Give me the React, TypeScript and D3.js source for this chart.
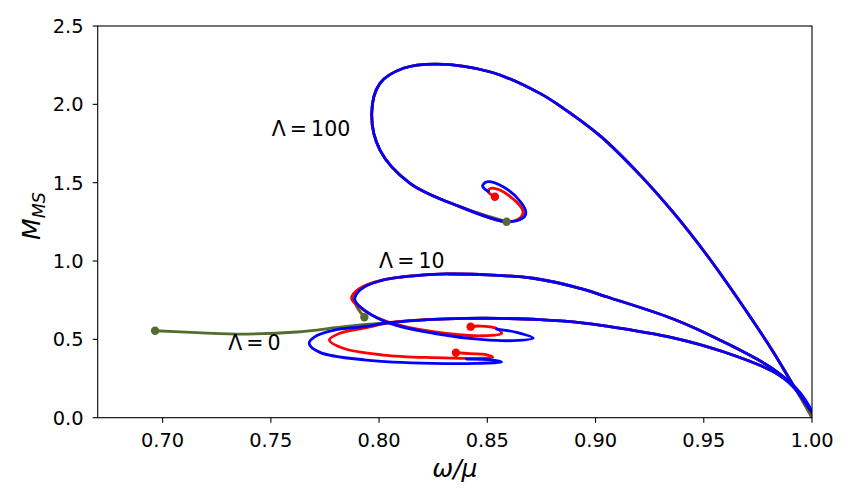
import React from "react";
import * as d3 from "d3";

type P = [number, number];

// ---- data (omega/mu, M_MS) ----
const xTicks = [0.7, 0.75, 0.8, 0.85, 0.9, 0.95, 1.0];
const yTicks = [0, 0.5, 1.0, 1.5, 2.0, 2.5];

// Lambda = 100 : shared branch (from omega -> 1 towards the spiral)
const lam100Main: P[] = [
  [0.9997, 0.04], [0.9913, 0.209], [0.9821, 0.42], [0.9667, 0.74], [0.9513, 1.04],
  [0.9359, 1.31], [0.9205, 1.55], [0.902, 1.8], [0.8835, 1.99], [0.8743, 2.07],
  [0.852, 2.205], [0.8265, 2.257], [0.8112, 2.23], [0.8004, 2.134], [0.7966, 1.943],
  [0.8004, 1.708], [0.8143, 1.496], [0.8373, 1.347], [0.8589, 1.251],
];
const lam100BlueTail: P[] = [
  [0.8665, 1.275], [0.8678, 1.31], [0.8655, 1.375], [0.8573, 1.474], [0.8497, 1.505],
  [0.8478, 1.478], [0.8504, 1.444],
];
const lam100RedTail: P[] = [
  [0.8655, 1.28], [0.8665, 1.315], [0.864, 1.37], [0.8558, 1.453], [0.8512, 1.462],
  [0.8506, 1.44], [0.8535, 1.41],
];

// Lambda = 10
const lam10Main: P[] = [
  [0.9997, 0.05], [0.9944, 0.16], [0.9821, 0.31], [0.959, 0.485], [0.9359, 0.63],
  [0.9051, 0.772], [0.8928, 0.826], [0.8712, 0.89], [0.85, 0.912], [0.835, 0.917],
  [0.825, 0.915], [0.8019, 0.879],
];
const lam10BlueTail: P[] = [
  [0.7912, 0.815], [0.7888, 0.751], [0.7942, 0.677], [0.805, 0.602], [0.825, 0.539],
  [0.8481, 0.498], [0.862, 0.492], [0.8712, 0.508], [0.8635, 0.545], [0.8543, 0.566],
];
const lam10RedTail: P[] = [
  [0.7905, 0.82], [0.7873, 0.762], [0.7925, 0.69], [0.804, 0.612], [0.825, 0.549],
  [0.8481, 0.523], [0.8566, 0.539], [0.8543, 0.57], [0.8466, 0.585], [0.8423, 0.581],
];
const lam10GreenTail: P[] = [
  [0.7905, 0.815], [0.7885, 0.751], [0.79, 0.7], [0.7932, 0.641],
];

// Lambda = 0
const lam0Main: P[] = [
  [0.9997, 0.04], [0.9913, 0.198], [0.9821, 0.294], [0.959, 0.421], [0.9359, 0.51],
  [0.9051, 0.585], [0.8928, 0.607], [0.8743, 0.626], [0.8558, 0.634], [0.84, 0.634],
  [0.825, 0.628], [0.805, 0.607],
];
const lam0BlueTail: P[] = [
  [0.7942, 0.583], [0.7788, 0.557], [0.7704, 0.517], [0.7677, 0.475], [0.7727, 0.417],
  [0.7942, 0.368], [0.825, 0.347], [0.845, 0.347], [0.8566, 0.356], [0.852, 0.369],
  [0.8404, 0.374],
];
const lam0RedTail: P[] = [
  [0.7942, 0.575], [0.7819, 0.539], [0.777, 0.496], [0.7834, 0.443], [0.8019, 0.4],
  [0.825, 0.383], [0.845, 0.379], [0.8525, 0.386], [0.8495, 0.403], [0.842, 0.409],
  [0.8355, 0.415],
];
const lam0GreenTail: P[] = [
  [0.785, 0.583], [0.7619, 0.547], [0.7388, 0.534], [0.7157, 0.543], [0.6965, 0.555],
];

const greenEnd: P = [1.0, 0.0];
const redEnd: P = [1.0, 0.03];

const redDots: P[] = [[0.8535, 1.41], [0.8423, 0.581], [0.8355, 0.415]];
const greenDots: P[] = [[0.6965, 0.555], [0.7932, 0.641], [0.8589, 1.251]];

const labels: { text: string; x: number; y: number }[] = [
  { text: "Λ\u2009=\u2009100", x: 0.7504, y: 1.8 },
  { text: "Λ\u2009=\u200910", x: 0.8, y: 0.953 },
  { text: "Λ\u2009=\u20090", x: 0.7303, y: 0.432 },
];

const GREEN = "#556b2f";
const RED = "#ff0000";
const BLUE = "#0000ff";

export default function App() {
  const W = 855;
  const H = 503;
  const L = 97.7, R = 812, T = 26, B = 417.7;
  const x = d3.scaleLinear().domain([0.67, 1.0]).range([L, R]);
  const y = d3.scaleLinear().domain([0, 2.5]).range([B, T]);
  const line = d3
    .line<P>()
    .x((d) => x(d[0]))
    .y((d) => y(d[1]))
    .curve(d3.curveCatmullRom.alpha(0.5));

  const greens: P[][] = [
    [greenEnd, ...lam100Main.slice(1)],
    [greenEnd, ...lam10Main.slice(1), ...lam10GreenTail],
    [greenEnd, ...lam0Main.slice(1), ...lam0GreenTail],
  ];
  const reds: P[][] = [
    [redEnd, ...lam100Main.slice(1), ...lam100RedTail],
    [redEnd, ...lam10Main.slice(1), ...lam10RedTail],
    [redEnd, ...lam0Main.slice(1), ...lam0RedTail],
  ];
  const blues: P[][] = [
    [...lam100Main, ...lam100BlueTail],
    [...lam10Main, ...lam10BlueTail],
    [...lam0Main, ...lam0BlueTail],
  ];

  const font = "'DejaVu Sans', sans-serif";
  const lw = 2.8;

  return (
    <svg
      width={W}
      height={H}
      style={{ position: "absolute", left: 0, top: 0, background: "#fff" }}
      fontFamily={font}
    >
      <defs>
        <clipPath id="plot">
          <rect x={L} y={T} width={R - L} height={B - T} />
        </clipPath>
      </defs>
      <rect x={0} y={0} width={W} height={H} fill="#fff" />
      <g clipPath="url(#plot)" fill="none" strokeLinejoin="round" strokeLinecap="round">
        {greens.map((d, i) => (
          <path key={"g" + i} d={line(d) || ""} stroke={GREEN} strokeWidth={lw} />
        ))}
        {reds.map((d, i) => (
          <path key={"r" + i} d={line(d) || ""} stroke={RED} strokeWidth={lw} />
        ))}
        {blues.map((d, i) => (
          <path key={"b" + i} d={line(d) || ""} stroke={BLUE} strokeWidth={lw} />
        ))}
      </g>
      <g>
        {greenDots.map((d, i) => (
          <circle key={"gd" + i} cx={x(d[0])} cy={y(d[1])} r={4.2} fill={GREEN} />
        ))}
        {redDots.map((d, i) => (
          <circle key={"rd" + i} cx={x(d[0])} cy={y(d[1])} r={4.2} fill={RED} />
        ))}
      </g>
      {labels.map((l, i) => (
        <text key={"l" + i} x={x(l.x)} y={y(l.y)} fontSize={20.5} fill="#000">
          {l.text}
        </text>
      ))}
      {/* axes frame */}
      <rect x={L} y={T} width={R - L} height={B - T} fill="none" stroke="#000" strokeWidth={1.1} />
      {xTicks.map((t) => (
        <g key={"xt" + t}>
          <line x1={x(t)} x2={x(t)} y1={B} y2={B + 5} stroke="#000" strokeWidth={1.1} />
          <text x={x(t)} y={446.5} fontSize={19.4} textAnchor="middle" fill="#000">
            {t.toFixed(2)}
          </text>
        </g>
      ))}
      {yTicks.map((t) => (
        <g key={"yt" + t}>
          <line x1={L - 5} x2={L} y1={y(t)} y2={y(t)} stroke="#000" strokeWidth={1.1} />
          <text x={83.5} y={y(t) + 7} fontSize={19.4} textAnchor="end" fill="#000">
            {t.toFixed(1)}
          </text>
        </g>
      ))}
      <text x={(L + R) / 2} y={476.5} fontSize={25} textAnchor="middle" fontStyle="italic" fill="#000">
        ω/μ
      </text>
      <text
        transform={`translate(40, 216) rotate(-90)`}
        fontSize={25}
        textAnchor="middle"
        fontStyle="italic"
        fill="#000"
      >
        M
        <tspan fontSize={17.5} dy={5}>
          MS
        </tspan>
      </text>
    </svg>
  );
}
